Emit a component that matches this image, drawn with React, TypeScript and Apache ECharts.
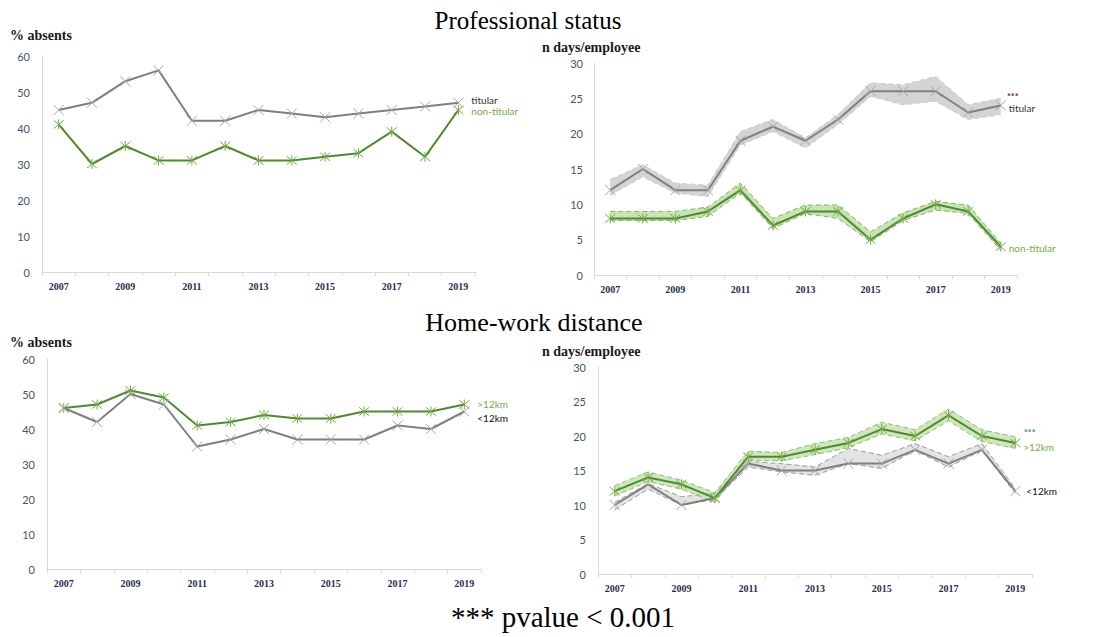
import React, { useEffect, useRef } from "react";
import * as echarts from "echarts";

const years = ["2007", "2008", "2009", "2010", "2011", "2012", "2013", "2014", "2015", "2016", "2017", "2018", "2019"];

// Professional status – % absents
const absTitular = [45, 47, 53, 56, 42, 42, 45, 44, 43, 44, 45, 46, 47];
const absNonTitular = [41, 30, 35, 31, 31, 35, 31, 31, 32, 33, 39, 32, 45];

// Professional status – n days/employee
const daysTitular = [12, 15, 12, 12, 19, 21, 19, 22, 26, 26, 26, 23, 24];
const daysTitularLo = [11.3, 13.9, 11.6, 11.1, 18.4, 20.3, 18.0, 21.3, 25.3, 24.1, 24.6, 22.0, 22.7];
const daysTitularHi = [13.5, 15.6, 13.0, 12.7, 20.3, 22.0, 19.4, 22.7, 27.2, 26.9, 28.1, 24.1, 25.0];
const daysNonTitular = [8, 8, 8, 9, 12, 7, 9, 9, 5, 8, 10, 9, 4];
const daysNonTitularLo = [7.7, 7.7, 7.7, 8.3, 11.6, 6.6, 8.7, 8.0, 4.7, 7.7, 9.2, 8.7, 3.5];
const daysNonTitularHi = [9.0, 9.0, 9.0, 9.6, 13.0, 8.0, 9.9, 9.9, 6.1, 8.8, 10.4, 9.9, 4.5];

// Home-work distance – % absents
const absFar = [46, 47, 51, 49, 41, 42, 44, 43, 43, 45, 45, 45, 47];
const absNear = [46, 42, 50, 47, 35, 37, 40, 37, 37, 37, 41, 40, 45];

// Home-work distance – n days/employee
const daysFar = [12, 14, 13, 11, 17, 17, 18, 19, 21, 20, 23, 20, 19];
const daysFarLo = [11.3, 13.4, 12.3, 10.4, 16.5, 16.4, 17.3, 18.3, 20.3, 19.3, 22.2, 19.2, 18.2];
const daysFarHi = [12.8, 14.8, 13.6, 11.8, 17.8, 17.6, 18.9, 19.8, 22.0, 20.9, 23.9, 20.9, 19.9];
const daysNear = [10, 13, 10, 11, 16, 15, 15, 16, 16, 18, 16, 18, 12];
const daysNearLo = [9.3, 12.3, 10.0, 10.8, 15.5, 14.8, 14.3, 16.0, 15.3, 17.9, 15.5, 17.9, 11.7];
const daysNearHi = [10.4, 13.1, 11.2, 11.7, 16.3, 16.0, 15.5, 18.2, 17.2, 18.9, 17.0, 18.9, 12.4];

const SYM_X = "path://M0 0L10 10M10 0L0 10";
const SYM_STAR = "path://M0 0L10 10M10 0L0 10M5 -1L5 11";

const GRAY = "#7f7f7f";
const GRAY_MARK = "#a6a6a6";
const GREEN = "#4f8a2f";
const GREEN_LIGHT = "#70ad47";
const SANS = "Lato, 'Liberation Sans', sans-serif";
const SERIF = "'Liberation Serif', 'DejaVu Serif', serif";

function mainLine(idx: number, data: number[], color: string, markColor: string, symbol: string, label: string, labelColor: string, offset: [number, number]) {
  return {
    type: "line",
    xAxisIndex: idx,
    yAxisIndex: idx,
    data,
    z: 5,
    symbol,
    symbolSize: 10,
    showSymbol: true,
    itemStyle: { color: markColor, borderColor: markColor, borderWidth: 1 },
    lineStyle: { color, width: 2 },
    endLabel: {
      show: true,
      formatter: label,
      color: labelColor,
      fontSize: 10,
      fontFamily: SANS,
      offset,
    },
    silent: true,
  };
}

function band(idx: number, lo: number[], hi: number[], fill: string, edge: string, stack: string) {
  const diff = hi.map((h, i) => +(h - lo[i]).toFixed(2));
  return [
    {
      type: "line", xAxisIndex: idx, yAxisIndex: idx, data: lo, stack, symbol: "none",
      lineStyle: { opacity: 0 }, z: 1, silent: true,
    },
    {
      type: "line", xAxisIndex: idx, yAxisIndex: idx, data: diff, stack, symbol: "none",
      lineStyle: { opacity: 0 }, areaStyle: { color: fill, opacity: 1 }, z: 1, silent: true,
    },
    {
      type: "line", xAxisIndex: idx, yAxisIndex: idx, data: lo, symbol: "none",
      lineStyle: { color: edge, width: 1, type: [5, 3] }, z: 2, silent: true,
    },
    {
      type: "line", xAxisIndex: idx, yAxisIndex: idx, data: hi, symbol: "none",
      lineStyle: { color: edge, width: 1, type: [5, 3] }, z: 2, silent: true,
    },
  ];
}

function xAxis(idx: number) {
  return {
    type: "category",
    gridIndex: idx,
    data: years,
    boundaryGap: true,
    axisLine: { lineStyle: { color: "#d9d9d9", width: 1 } },
    axisTick: { show: true, interval: 0, length: 4, lineStyle: { color: "#d9d9d9" } },
    axisLabel: { interval: 1, color: "#1f2f4f", fontSize: 10, fontWeight: "bold", fontFamily: SERIF, margin: 9 },
    splitLine: { show: false },
  };
}

function yAxis(idx: number, max: number, interval: number, margin: number) {
  return {
    type: "value",
    gridIndex: idx,
    min: 0,
    max,
    interval,
    axisLine: { show: true, lineStyle: { color: "#d9d9d9", width: 1 } },
    axisTick: { show: false },
    axisLabel: { color: "#44546a", fontSize: 11, fontFamily: SANS, margin },
    splitLine: { show: false },
  };
}

export default function App() {
  const ref = useRef<HTMLDivElement>(null);
  useEffect(() => {
    if (!ref.current) return;
    const chart = echarts.init(ref.current, null, { renderer: "svg" });
    const option = {
      animation: false,
      backgroundColor: "#ffffff",
      grid: [
        { left: 42, top: 56, width: 433, height: 216 },
        { left: 594, top: 63, width: 423, height: 212 },
        { left: 47, top: 359, width: 434, height: 210 },
        { left: 598, top: 367, width: 434, height: 207 },
      ],
      xAxis: [xAxis(0), xAxis(1), xAxis(2), xAxis(3)],
      yAxis: [yAxis(0, 60, 10, 12), yAxis(1, 30, 5, 11), yAxis(2, 60, 10, 12), yAxis(3, 30, 5, 12)],
      graphic: [
        { type: "text", x: 528, y: 20, style: { text: "Professional status", font: `25px ${SERIF}`, fill: "#000", align: "center", verticalAlign: "middle" } },
        { type: "text", x: 534, y: 322, style: { text: "Home-work distance", font: `26px ${SERIF}`, fill: "#000", align: "center", verticalAlign: "middle" } },
        { type: "text", x: 563, y: 617, style: { text: "*** pvalue < 0.001", font: `29px ${SERIF}`, fill: "#000", align: "center", verticalAlign: "middle" } },
        { type: "text", x: 10, y: 35, style: { text: "% absents", font: `bold 14px ${SERIF}`, fill: "#1a1a1a", verticalAlign: "middle" } },
        { type: "text", x: 542, y: 47, style: { text: "n days/employee", font: `bold 14px ${SERIF}`, fill: "#1a1a1a", verticalAlign: "middle" } },
        { type: "text", x: 10, y: 342, style: { text: "% absents", font: `bold 14px ${SERIF}`, fill: "#1a1a1a", verticalAlign: "middle" } },
        { type: "text", x: 542, y: 351, style: { text: "n days/employee", font: `bold 14px ${SERIF}`, fill: "#1a1a1a", verticalAlign: "middle" } },
        { type: "text", x: 1007, y: 96, style: { text: "***", font: `bold 9px ${SANS}`, fill: "#5b2c2c", verticalAlign: "middle" } },
        { type: "text", x: 1024, y: 432, style: { text: "***", font: `bold 9px ${SANS}`, fill: "#2e8b6e", verticalAlign: "middle" } },
      ],
      series: [
        mainLine(0, absTitular, GRAY, GRAY_MARK, SYM_X, "titular", "#333", [5, -3]),
        mainLine(0, absNonTitular, GREEN, GREEN_LIGHT, SYM_STAR, "non-titular", GREEN_LIGHT, [5, 1]),

        ...band(1, daysTitularLo, daysTitularHi, "#d4d4d4", "#c8c8c8", "t"),
        ...band(1, daysNonTitularLo, daysNonTitularHi, "#c9e3b6", "#7fb85a", "nt"),
        mainLine(1, daysTitular, GRAY, GRAY_MARK, SYM_X, "titular", "#333", [0, 3]),
        mainLine(1, daysNonTitular, GREEN, GREEN_LIGHT, SYM_STAR, "non-titular", GREEN_LIGHT, [0, 1]),

        mainLine(2, absFar, GREEN, GREEN_LIGHT, SYM_STAR, ">12km", GREEN_LIGHT, [5, -1]),
        mainLine(2, absNear, GRAY, GRAY_MARK, SYM_X, "<12km", "#111", [5, 6]),

        ...band(3, daysNearLo, daysNearHi, "#e3e3e3", "#9a9a9a", "n"),
        ...band(3, daysFarLo, daysFarHi, "#cfe6bf", "#8cc36a", "f"),
        mainLine(3, daysNear, GRAY, GRAY_MARK, SYM_X, "<12km", "#111", [3, 0]),
        mainLine(3, daysFar, GREEN, GREEN_LIGHT, SYM_STAR, ">12km", GREEN_LIGHT, [0, 4]),
      ],
    };
    chart.setOption(option as any);
    return () => chart.dispose();
  }, []);
  return (
    <div
      ref={ref}
      style={{ position: "fixed", left: 0, top: 0, width: 1097, height: 637, background: "#fff" }}
    />
  );
}
